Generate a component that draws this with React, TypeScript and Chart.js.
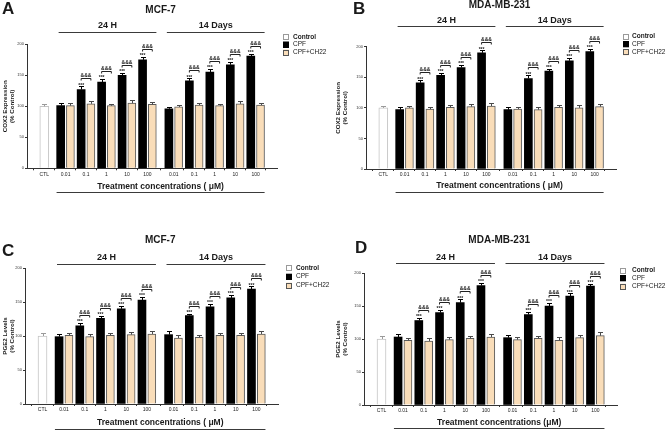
import React, { useEffect, useRef } from "react";
import { Chart, registerables } from "chart.js";

Chart.register(...registerables);

const FONT = "'Liberation Sans', Arial, Helvetica, sans-serif";
const W = 333;
const H = 215;

// ---------- data ----------
const concentrations = ["0.01", "0.1", "1", "10", "100"];
const periods = ["24 H", "14 Days"];
const seriesNames = ["Control", "CPF", "CPF+CH22"];
const ctlLabel = "CTL";
const yTickValues = [0, 50, 100, 150, 200];
const cpfMarks = ["", "***", "***", "***", "***", "", "***", "***", "***", "***"];
const ch22Marks = ["", "&&&", "&&&", "&&&", "&&&", "", "&&&", "&&&", "&&&", "&&&"];

// A: COX2, MCF-7
const coxMcfControl = [100];
const coxMcfControlErr = [3];
const coxMcfCpf = [101, 127, 139, 150, 175, 96, 141, 155, 167, 181];
const coxMcfCpfErr = [4, 5, 5, 4, 4, 3, 4, 5, 4, 4];
const coxMcfCh22 = [101, 104, 101, 105, 103, 99, 102, 101, 104, 102];
const coxMcfCh22Err = [4, 4, 3, 5, 4, 3, 4, 3, 4, 4];

// B: COX2, MDA-MB-231
const coxMdaControl = [100];
const coxMdaControlErr = [3];
const coxMdaCpf = [97, 141, 153, 166, 190, 97, 148, 160, 177, 192];
const coxMdaCpfErr = [4, 4, 4, 4, 4, 4, 5, 4, 5, 4];
const coxMdaCh22 = [100, 98, 101, 102, 103, 98, 97, 101, 100, 102];
const coxMdaCh22Err = [3, 4, 4, 4, 5, 4, 4, 4, 4, 5];

// C: PGE2, MCF-7
const pgeMcfControl = [100];
const pgeMcfControlErr = [4];
const pgeMcfCpf = [99, 115, 126, 140, 153, 102, 130, 143, 156, 169];
const pgeMcfCpfErr = [4, 4, 4, 4, 5, 5, 3, 4, 4, 4];
const pgeMcfCh22 = [101, 99, 101, 102, 103, 97, 98, 101, 101, 103];
const pgeMcfCh22Err = [3, 4, 4, 4, 4, 4, 3, 4, 3, 4];

// D: PGE2, MDA-MB-231
const pgeMdaControl = [100];
const pgeMdaControlErr = [4];
const pgeMdaCpf = [103, 128, 140, 155, 181, 102, 137, 150, 165, 180];
const pgeMdaCpfErr = [5, 4, 4, 5, 4, 4, 4, 5, 4, 4];
const pgeMdaCh22 = [98, 97, 99, 101, 103, 99, 101, 98, 102, 105];
const pgeMdaCh22Err = [4, 4, 4, 4, 5, 4, 4, 5, 4, 5];

// ---------- layout (positions/styles) ----------
const X_MAX = 22.2;
const CTL_X = 0.58;
const GROUP_START = [2.18, 12.75];
const PAIR_PITCH = 2;
const PAIR_OFFSET = 0.95;

const BEIGE = "#F9DDB9";
const CH_BORDER = "#5a5a5a";
const CTL_BORDER = "#c4c4c4";
const TXT = "#1a1a1a";
const LINE = "#3a3a3a";

function barX(i: number, series: number) {
  const p = Math.floor(i / 5);
  const k = i % 5;
  return GROUP_START[p] + k * PAIR_PITCH + (series === 2 ? PAIR_OFFSET : 0);
}

const panels = [
  {
    letter: "A", title: "MCF-7", yTitle: ["COX2 Expression", "(% Control)"], unit: "( \u03bcM)",
    control: coxMcfControl, controlErr: coxMcfControlErr, cpf: coxMcfCpf, cpfErr: coxMcfCpfErr, ch: coxMcfCh22, chErr: coxMcfCh22Err,
    g: { x: 0, y: 0, left: 27, right: 277, top: 44.3, bottom: 168.3, letterX: 2, letterY: 9, titleY: 10, groupTextY: 26, groupLineY: 32, treatTextY: 187, treatLineY: 192, legendBoxX: 283, legendTextX: 293, legendY: [37, 44.5, 52.5] },
  },
  {
    letter: "B", title: "MDA-MB-231", yTitle: ["COX2 Expression", "(% Control)"], unit: "( \u03bcM)",
    control: coxMdaControl, controlErr: coxMdaControlErr, cpf: coxMdaCpf, cpfErr: coxMdaCpfErr, ch: coxMdaCh22, chErr: coxMdaCh22Err,
    g: { x: 333, y: 0, left: 33, right: 283, top: 46.7, bottom: 169, letterX: 20, letterY: 9, titleY: 5.5, groupTextY: 21, groupLineY: 26, treatTextY: 186, treatLineY: 192, legendBoxX: 290, legendTextX: 299, legendY: [36.7, 44.3, 52.3] },
  },
  {
    letter: "C", title: "MCF-7", yTitle: ["PGE2 Levels", "(% Control)"], unit: "( \u03bcM)",
    control: pgeMcfControl, controlErr: pgeMcfControlErr, cpf: pgeMcfCpf, cpfErr: pgeMcfCpfErr, ch: pgeMcfCh22, chErr: pgeMcfCh22Err,
    g: { x: 0, y: 215, left: 25, right: 278, top: 53, bottom: 189, letterX: 2, letterY: 36, titleY: 25, groupTextY: 43, groupLineY: 49, treatTextY: 208, treatLineY: 214, legendBoxX: 286, legendTextX: 296, legendY: [53.3, 61.7, 70.7] },
  },
  {
    letter: "D", title: "MDA-MB-231", yTitle: ["PGE2 Levels", "(% Control)"], unit: "(\u03bcM)",
    control: pgeMdaControl, controlErr: pgeMdaControlErr, cpf: pgeMdaCpf, cpfErr: pgeMdaCpfErr, ch: pgeMdaCh22, chErr: pgeMdaCh22Err,
    g: { x: 333, y: 215, left: 31, right: 284, top: 58, bottom: 190, letterX: 22, letterY: 33, titleY: 25, groupTextY: 43, groupLineY: 48, treatTextY: 208, treatLineY: 213, legendBoxX: 287, legendTextX: 299, legendY: [55.7, 63.3, 71.7] },
  },
];

function makeDecor(cfg: any) {
  const g = cfg.g;
  return {
    id: "panelDecor",
    afterDatasetsDraw(chart: any) {
      const ctx = chart.ctx;
      const ys = chart.scales.y;
      const sets = [
        [cfg.control, cfg.controlErr, "#9a9a9a"],
        [cfg.cpf, cfg.cpfErr, "#000"],
        [cfg.ch, cfg.chErr, "#4a4a4a"],
      ];
      ctx.save();
      ctx.lineWidth = 1;
      sets.forEach((s: any, di: number) => {
        const meta = chart.getDatasetMeta(di);
        meta.data.forEach((el: any, i: number) => {
          const v = s[0][i];
          const e = s[1][i];
          const topY = ys.getPixelForValue(v);
          const capY = Math.round(ys.getPixelForValue(v + e)) + 0.5;
          const x = Math.round(el.x) + 0.5;
          ctx.strokeStyle = s[2];
          ctx.beginPath();
          ctx.moveTo(x, topY);
          ctx.lineTo(x, capY);
          ctx.moveTo(x - 2.5, capY);
          ctx.lineTo(x + 2.5, capY);
          ctx.stroke();
        });
      });
      // significance marks
      const m1 = chart.getDatasetMeta(1);
      const m2 = chart.getDatasetMeta(2);
      cfg.cpf.forEach((v: number, i: number) => {
        const capY = ys.getPixelForValue(v + cfg.cpfErr[i]);
        const cx = m1.data[i].x;
        const hx = m2.data[i].x;
        ctx.fillStyle = TXT;
        ctx.textAlign = "center";
        ctx.textBaseline = "middle";
        if (cpfMarks[i]) {
          ctx.font = `bold 5px ${FONT}`;
          ctx.fillText(cpfMarks[i], cx, capY - 1.2);
        }
        if (ch22Marks[i]) {
          const by = Math.round(capY - 8) + 0.5;
          ctx.strokeStyle = "#222";
          ctx.beginPath();
          ctx.moveTo(cx, by + 2);
          ctx.lineTo(cx, by);
          ctx.lineTo(hx, by);
          ctx.lineTo(hx, by + 2);
          ctx.stroke();
          ctx.font = `bold 5px ${FONT}`;
          ctx.fillText(ch22Marks[i], (cx + hx) / 2, by - 2.8);
        }
      });
      ctx.restore();
    },
    afterDraw(chart: any) {
      const ctx = chart.ctx;
      const xs = chart.scales.x;
      ctx.save();
      ctx.fillStyle = TXT;
      ctx.strokeStyle = LINE;
      ctx.lineWidth = 1;
      // panel letter
      ctx.textAlign = "left";
      ctx.textBaseline = "middle";
      ctx.font = `bold 17px ${FONT}`;
      ctx.fillText(cfg.letter, g.letterX, g.letterY);
      // group lines
      const groupEnds: number[][] = [];
      periods.forEach((p, pi) => {
        const x0 = xs.getPixelForValue(GROUP_START[pi] - 0.2);
        const x1 = xs.getPixelForValue(GROUP_START[pi] + 4 * PAIR_PITCH + PAIR_OFFSET + 0.4);
        groupEnds.push([x0, x1]);
        const ly = Math.round(g.groupLineY) + 0.5;
        ctx.beginPath();
        ctx.moveTo(x0, ly);
        ctx.lineTo(x1, ly);
        ctx.stroke();
        ctx.textAlign = "center";
        ctx.font = `bold 9px ${FONT}`;
        ctx.fillText(p, (x0 + x1) / 2, g.groupTextY);
      });
      // treatment line
      const tx0 = groupEnds[0][0] - (xs.getPixelForValue(0.2) - xs.getPixelForValue(0));
      const tx1 = groupEnds[1][1];
      const tly = Math.round(g.treatLineY) + 0.5;
      ctx.beginPath();
      ctx.moveTo(tx0, tly);
      ctx.lineTo(tx1, tly);
      ctx.stroke();
      ctx.font = `bold 8.5px ${FONT}`;
      ctx.textAlign = "center";
      ctx.fillText(`Treatment concentrations ${cfg.unit}`, (tx0 + tx1) / 2, g.treatTextY);
      // title
      ctx.font = `bold 10px ${FONT}`;
      ctx.fillText(cfg.title, (tx0 + tx1) / 2, g.titleY);
      // y title
      const cy = (g.top + g.bottom) / 2;
      ctx.font = `bold 6.2px ${FONT}`;
      [5.5, 12].forEach((x, li) => {
        ctx.save();
        ctx.translate(x, cy);
        ctx.rotate(-Math.PI / 2);
        ctx.textAlign = "center";
        ctx.textBaseline = "middle";
        ctx.fillText(cfg.yTitle[li], 0, 0);
        ctx.restore();
      });
      // legend
      const fills = ["#ffffff", "#000000", BEIGE];
      const strokes = ["#9a9a9a", "#000000", "#555555"];
      seriesNames.forEach((name, i) => {
        const yy = g.legendY[i];
        ctx.fillStyle = fills[i];
        ctx.fillRect(g.legendBoxX, yy - 3, 6, 6);
        ctx.strokeStyle = strokes[i];
        ctx.strokeRect(g.legendBoxX + 0.5, Math.round(yy - 3) + 0.5, 5, 5);
        ctx.fillStyle = TXT;
        ctx.textAlign = "left";
        ctx.textBaseline = "middle";
        ctx.font = `${i === 0 ? "bold " : ""}6.5px ${FONT}`;
        ctx.fillText(name, g.legendTextX, yy);
      });
      ctx.restore();
    },
  };
}

function Panel({ cfg }: { cfg: any }) {
  const ref = useRef<HTMLCanvasElement>(null);
  useEffect(() => {
    const canvas = ref.current;
    if (!canvas) return;
    const g = cfg.g;
    const tickPos = [CTL_X, ...concentrations.map((_, k) => GROUP_START[0] + k * PAIR_PITCH + PAIR_OFFSET / 2), ...concentrations.map((_, k) => GROUP_START[1] + k * PAIR_PITCH + PAIR_OFFSET / 2)];
    const tickLabels = [ctlLabel, ...concentrations, ...concentrations];
    const chart = new Chart(canvas, {
      type: "bar",
      data: {
        datasets: [
          {
            label: seriesNames[0],
            data: cfg.control.map((v: number) => ({ x: CTL_X, y: v })),
            backgroundColor: "#ffffff",
            borderColor: CTL_BORDER,
            borderWidth: 1,
            barThickness: 9,
            grouped: false,
          },
          {
            label: seriesNames[1],
            data: cfg.cpf.map((v: number, i: number) => ({ x: barX(i, 1), y: v })),
            backgroundColor: "#000000",
            borderWidth: 0,
            barThickness: 8,
            grouped: false,
          },
          {
            label: seriesNames[2],
            data: cfg.ch.map((v: number, i: number) => ({ x: barX(i, 2), y: v })),
            backgroundColor: BEIGE,
            borderColor: CH_BORDER,
            borderWidth: 1,
            barThickness: 8,
            grouped: false,
          },
        ] as any,
      },
      options: {
        animation: false,
        responsive: false,
        events: [],
        layout: { padding: { left: 0, right: W - g.right, top: g.top, bottom: 0 } },
        plugins: { legend: { display: false }, tooltip: { enabled: false } },
        scales: {
          x: {
            type: "linear",
            min: 0,
            max: X_MAX,
            afterFit: (s: any) => { s.height = H - g.bottom; },
            afterBuildTicks: (s: any) => { s.ticks = tickPos.map((v) => ({ value: v })); },
            ticks: {
              autoSkip: false,
              maxRotation: 0,
              padding: 1,
              color: "#222",
              font: { size: 5, family: FONT },
              callback: (_v: any, i: number) => tickLabels[i],
            },
            grid: { drawOnChartArea: false, drawTicks: true, tickLength: 2, color: "#333" },
            border: { display: true, color: "#333", width: 1 },
          },
          y: {
            min: 0,
            max: 200,
            afterFit: (s: any) => { s.width = g.left; },
            afterBuildTicks: (s: any) => { s.ticks = yTickValues.map((v) => ({ value: v })); },
            ticks: { padding: 1, color: "#333", font: { size: 4, family: FONT } },
            grid: { drawOnChartArea: false, drawTicks: true, tickLength: 2, color: "#333" },
            border: { display: true, color: "#333", width: 1 },
          },
        },
      } as any,
      plugins: [makeDecor(cfg)],
    });
    return () => chart.destroy();
  }, [cfg]);
  return (
    <canvas
      ref={ref}
      width={W}
      height={H}
      style={{ position: "absolute", left: cfg.g.x, top: cfg.g.y, width: W, height: H }}
    />
  );
}

export default function App() {
  return (
    <div style={{ position: "fixed", left: 0, top: 0, width: 666, height: 430, background: "#fff", overflow: "hidden" }}>
      {panels.map((p) => (
        <Panel key={p.letter} cfg={p} />
      ))}
    </div>
  );
}
